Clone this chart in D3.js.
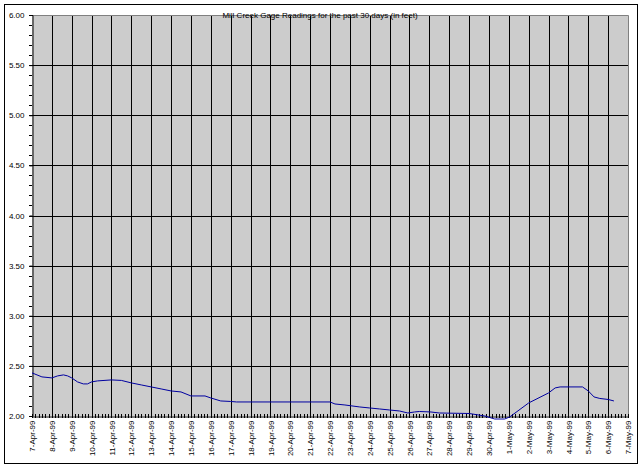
<!DOCTYPE html>
<html>
<head>
<meta charset="utf-8">
<script src="https://cdn.jsdelivr.net/npm/d3@7"></script>
<style>
  html, body { margin: 0; padding: 0; background: #fff; }
  svg { display: block; }
  text { font-family: "Liberation Sans", Arial, sans-serif; }
</style>
</head>
<body>
<script>
// ---- Data ----
const title = "Mill Creek Gage Readings for the past 30 days (in feet)";
const times = [
  "1999-04-07T00:00","1999-04-07T12:00","1999-04-08T00:00","1999-04-08T07:00","1999-04-08T14:00",
  "1999-04-08T19:00","1999-04-09T00:00","1999-04-09T07:00","1999-04-09T14:00","1999-04-09T19:00",
  "1999-04-10T00:00","1999-04-10T07:00","1999-04-11T00:00","1999-04-11T12:00","1999-04-12T00:00",
  "1999-04-12T12:00","1999-04-13T00:00","1999-04-13T12:00","1999-04-14T00:00","1999-04-14T12:00",
  "1999-04-15T00:00","1999-04-15T17:00","1999-04-16T00:00","1999-04-16T12:00","1999-04-17T00:00",
  "1999-04-17T07:00","1999-04-22T00:00","1999-04-22T06:00","1999-04-22T18:00","1999-04-23T12:00",
  "1999-04-24T00:00","1999-04-24T12:00","1999-04-25T00:00","1999-04-25T12:00","1999-04-25T22:00",
  "1999-04-26T06:00","1999-04-26T12:00","1999-04-27T02:00","1999-04-27T12:00","1999-04-29T00:00",
  "1999-04-29T19:00","1999-04-30T07:00","1999-04-30T19:00","1999-05-01T01:00","1999-05-02T00:00",
  "1999-05-03T00:00","1999-05-03T08:00","1999-05-03T14:00","1999-05-04T17:00","1999-05-05T00:00",
  "1999-05-05T07:00","1999-05-05T14:00","1999-05-06T00:00","1999-05-06T07:00"
];
const levels = [
  2.43, 2.39, 2.38, 2.40, 2.41,
  2.40, 2.38, 2.34, 2.32, 2.32,
  2.34, 2.35, 2.36, 2.355, 2.33,
  2.31, 2.29, 2.27, 2.25, 2.24,
  2.20, 2.20, 2.18, 2.15, 2.145,
  2.14, 2.14, 2.12, 2.11, 2.09,
  2.08, 2.07, 2.06, 2.05, 2.03,
  2.04, 2.045, 2.04, 2.03, 2.025,
  2.00, 1.97, 1.97, 1.99, 2.13,
  2.23, 2.28, 2.29, 2.29, 2.25,
  2.19, 2.175, 2.165, 2.15
];
const xStart = "1999-04-07T00:00";
const xEnd = "1999-05-07T00:00";
const yTicks = [2.0, 2.5, 3.0, 3.5, 4.0, 4.5, 5.0, 5.5, 6.0];

// ---- Layout ----
const W = 640, H = 467;
const m = { left: 32, right: 628, top: 15, bottom: 416 };
const parse = s => new Date(s + "Z");

const svg = d3.select("body").append("svg").attr("width", W).attr("height", H);

// outer frame
svg.append("rect").attr("x", 4.5).attr("y", 4.5).attr("width", 633).attr("height", 459)
  .attr("fill", "#fff").attr("stroke", "#000").attr("stroke-width", 1);

const x = d3.scaleUtc().domain([parse(xStart), parse(xEnd)]).range([m.left, m.right]);
const y = d3.scaleLinear().domain([2, 6]).range([m.bottom, m.top]);

// plot background
svg.append("rect").attr("x", m.left).attr("y", m.top)
  .attr("width", m.right - m.left).attr("height", m.bottom - m.top)
  .attr("fill", "#cccccc");

const days = d3.utcDay.range(parse(xStart), d3.utcDay.offset(parse(xEnd), 1));

// vertical gridlines
svg.append("g").selectAll("line").data(days.slice(1, -1)).join("line")
  .attr("x1", d => Math.round(x(d)) + 0.5).attr("x2", d => Math.round(x(d)) + 0.5)
  .attr("y1", m.top).attr("y2", m.bottom)
  .attr("stroke", "#000").attr("stroke-width", 1);

// horizontal gridlines
svg.append("g").selectAll("line").data(yTicks.slice(1, -1)).join("line")
  .attr("x1", m.left).attr("x2", m.right)
  .attr("y1", d => Math.round(y(d)) + 0.5).attr("y2", d => Math.round(y(d)) + 0.5)
  .attr("stroke", "#000").attr("stroke-width", 1);

// plot border (top & right gray)
svg.append("path")
  .attr("d", `M${m.left},${m.top + 0.5}H${m.right + 0.5}V${m.bottom}`)
  .attr("fill", "none").attr("stroke", "#808080").attr("stroke-width", 1);

// Y axis
const yMinor = d3.range(20, 61).map(v => v / 10);
const yAxis = d3.axisLeft(y).tickValues(yTicks).tickFormat(d3.format(".2f")).tickSize(3).tickPadding(5);
const yg = svg.append("g").attr("transform", `translate(${m.left + 0.5},0)`).call(yAxis);
yg.select(".domain").attr("stroke", "#000");
yg.selectAll("text").attr("font-size", 8).attr("fill", "#000");
svg.append("g").selectAll("line").data(yMinor).join("line")
  .attr("x1", m.left - 3).attr("x2", m.left)
  .attr("y1", d => Math.round(y(d)) + 0.5).attr("y2", d => Math.round(y(d)) + 0.5)
  .attr("stroke", "#000");

// X axis
const xAxis = d3.axisBottom(x).ticks(d3.utcDay.every(1)).tickFormat(d3.utcFormat("%-d-%b-%y")).tickSize(0).tickPadding(4);
const xg = svg.append("g").attr("transform", `translate(0,${m.bottom + 0.5})`).call(xAxis);
xg.select(".domain").attr("stroke", "#000");
xg.selectAll("text")
  .attr("font-size", 8).attr("fill", "#000")
  .attr("transform", "rotate(-90)")
  .attr("text-anchor", "end")
  .attr("x", -4).attr("y", 0).attr("dy", "0.33em");

// minor x ticks (every 4 hours), crossing the axis
const xMinor = d3.utcHour.every(4).range(parse(xStart), d3.utcHour.offset(parse(xEnd), 1));
svg.append("g").selectAll("line").data(xMinor).join("line")
  .attr("x1", d => Math.round(x(d)) + 0.5).attr("x2", d => Math.round(x(d)) + 0.5)
  .attr("y1", m.bottom - 2).attr("y2", m.bottom + 2)
  .attr("stroke", "#000");

// data line
const data = times.map((t, i) => ({ t: parse(t), v: levels[i] }));
svg.append("path").datum(data)
  .attr("d", d3.line().x(d => x(d.t)).y(d => y(d.v)))
  .attr("fill", "none").attr("stroke", "#0000a0").attr("stroke-width", 1);

// title
svg.append("text").attr("x", 320).attr("y", 18).attr("text-anchor", "middle")
  .attr("font-size", 8).attr("fill", "#000").text(title);
</script>
</body>
</html>
